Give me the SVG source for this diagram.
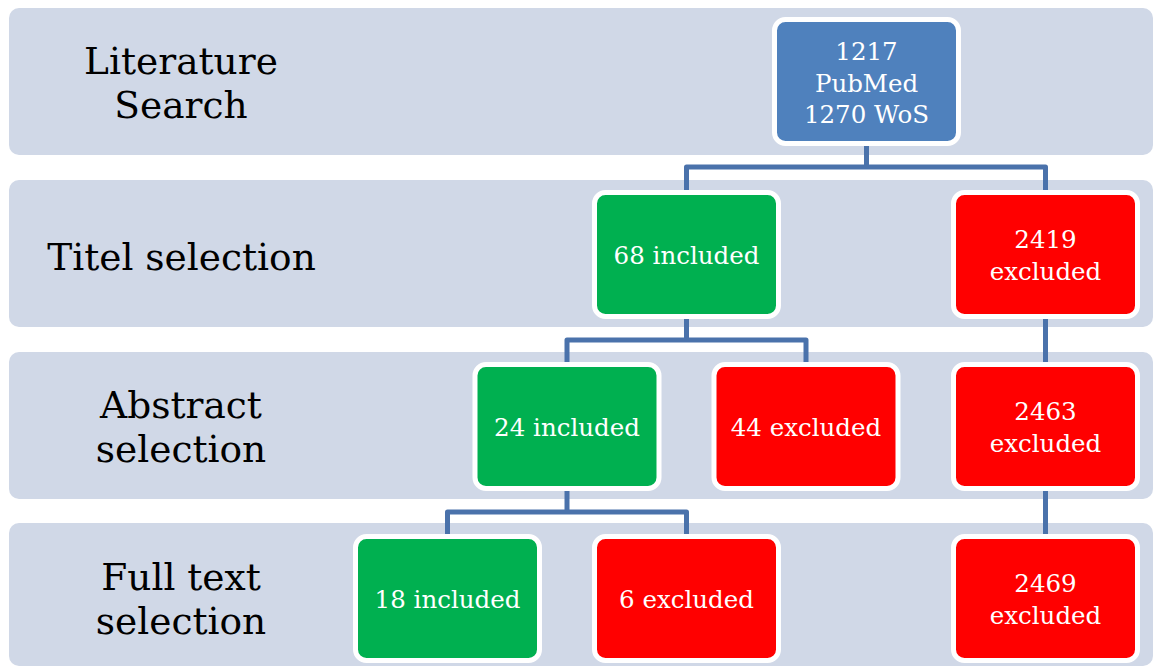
<svg xmlns="http://www.w3.org/2000/svg" width="1154" height="666" viewBox="0 0 1154 666">
<style>
.band{fill:#D0D8E7}
.lbl{font-family:"DejaVu Serif","Liberation Serif",serif;font-size:37.5px;fill:#000;text-anchor:middle}
.node{stroke:#FFFFFF;stroke-width:5}
.blue{fill:#4F81BD}
.green{fill:#00B050}
.red{fill:#FF0000}
.nt{font-family:"DejaVu Serif","Liberation Serif",serif;font-size:24.5px;fill:#FFFFFF;text-anchor:middle}
.conn{fill:none;stroke:#4A72AB;stroke-width:5;stroke-linejoin:round}
</style>
<rect width="1154" height="666" fill="#FFFFFF"/>
<g id="bands">
<rect class="band" x="9" y="8" width="1144" height="147" rx="10"/>
<rect class="band" x="9" y="180" width="1144" height="147" rx="10"/>
<rect class="band" x="9" y="352" width="1144" height="147" rx="10"/>
<rect class="band" x="9" y="523" width="1144" height="143" rx="10"/>
</g>
<g id="labels">
<text class="lbl" x="181" y="74">Literature</text>
<text class="lbl" x="181" y="118">Search</text>
<text class="lbl" x="181.5" y="270">Titel selection</text>
<text class="lbl" x="181" y="418">Abstract</text>
<text class="lbl" x="181" y="462">selection</text>
<text class="lbl" x="181" y="590">Full text</text>
<text class="lbl" x="181" y="634">selection</text>
</g>
<g id="connectors">
<path class="conn" d="M866.5 146 V167"/>
<path class="conn" d="M686.5 190 V167 H1045.5 V190"/>
<path class="conn" d="M686.5 319 V340"/>
<path class="conn" d="M567 362 V340 H806 V362"/>
<path class="conn" d="M1045.5 319 V362"/>
<path class="conn" d="M567 491 V512"/>
<path class="conn" d="M447.5 534 V512 H686.5 V534"/>
<path class="conn" d="M1045.5 491 V534"/>
</g>
<g id="search">
<rect class="node blue" x="774.5" y="19.5" width="184" height="124" rx="11"/>
<text class="nt" x="866.5" y="60">1217</text>
<text class="nt" x="866.5" y="92">PubMed</text>
<text class="nt" x="866.5" y="123">1270 WoS</text>
</g>
<g id="titel-included">
<rect class="node green" x="594.5" y="192.5" width="184" height="124" rx="11"/>
<text class="nt" x="686.5" y="263.5">68 included</text>
</g>
<g id="titel-excluded">
<rect class="node red" x="953.5" y="192.5" width="184" height="124" rx="11"/>
<text class="nt" x="1045.5" y="247.5">2419</text>
<text class="nt" x="1045.5" y="280">excluded</text>
</g>
<g id="abstract-included">
<rect class="node green" x="475" y="364.5" width="184" height="124" rx="11"/>
<text class="nt" x="567" y="435.5">24 included</text>
</g>
<g id="abstract-excluded">
<rect class="node red" x="714" y="364.5" width="184" height="124" rx="11"/>
<text class="nt" x="806" y="435.5">44 excluded</text>
</g>
<g id="abstract-excluded-total">
<rect class="node red" x="953.5" y="364.5" width="184" height="124" rx="11"/>
<text class="nt" x="1045.5" y="419.5">2463</text>
<text class="nt" x="1045.5" y="452">excluded</text>
</g>
<g id="full-included">
<rect class="node green" x="355.5" y="536.5" width="184" height="124" rx="11"/>
<text class="nt" x="447.5" y="607.5">18 included</text>
</g>
<g id="full-excluded">
<rect class="node red" x="594.5" y="536.5" width="184" height="124" rx="11"/>
<text class="nt" x="686.5" y="607.5">6 excluded</text>
</g>
<g id="full-excluded-total">
<rect class="node red" x="953.5" y="536.5" width="184" height="124" rx="11"/>
<text class="nt" x="1045.5" y="591.5">2469</text>
<text class="nt" x="1045.5" y="624">excluded</text>
</g>
</svg>
